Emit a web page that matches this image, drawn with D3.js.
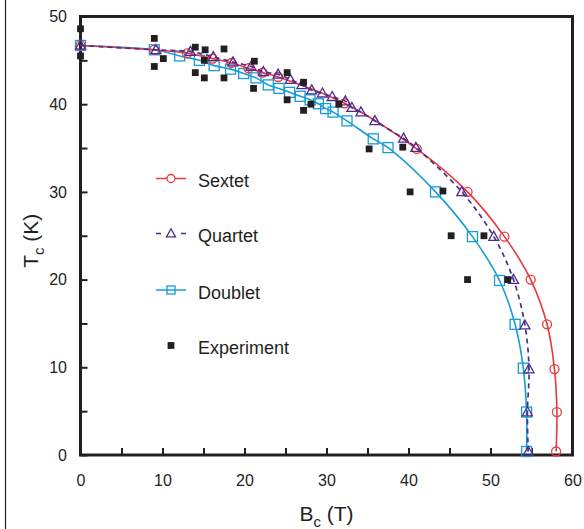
<!DOCTYPE html>
<html>
<head>
<meta charset="utf-8">
<script src="https://cdn.jsdelivr.net/npm/d3@7"></script>
<style>
  html, body { margin: 0; padding: 0; background: #fff; }
  svg { display: block; }
  text { font-family: "Liberation Sans", Arial, Helvetica, sans-serif; fill: #231f20; }
</style>
</head>
<body>
<script>
// ---------- data ----------
const sextetB = [0, 9, 13, 16.1, 18.4, 20.5, 22.2, 24.1, 32.2, 41.0, 47.2, 51.7, 54.9, 56.9, 57.8, 58.1, 58.0];
const sextetT = [46.7, 46.2, 45.8, 45.2, 44.7, 44.1, 43.6, 43.1, 40.1, 34.9, 30.0, 24.9, 20.0, 14.9, 9.8, 4.9, 0.4];

const quartetB = [0, 9.2, 13.4, 16.2, 18.6, 20.8, 22.3, 24.1, 25.6, 27.0, 28.2, 29.5, 30.7, 32.3, 33.1, 34.2, 35.9, 39.4, 40.9, 46.5, 50.4, 52.8, 54.2, 54.7, 54.5, 54.6];
const quartetT = [46.7, 46.2, 46.0, 45.4, 44.8, 44.3, 43.7, 43.4, 42.8, 42.2, 41.6, 41.25, 40.85, 40.35, 39.6, 39.1, 38.1, 36.1, 35.05, 30.0, 24.9, 20.0, 14.8, 9.8, 4.9, 0.4];

const doubletB = [0, 9, 12.1, 14.5, 16.3, 18.3, 19.9, 21.4, 22.9, 24.2, 25.5, 26.8, 28.0, 29.0, 29.9, 30.8, 32.5, 35.7, 37.5, 43.3, 47.8, 51.1, 53.0, 54.0, 54.4, 54.4];
const doubletT = [46.7, 46.2, 45.5, 45.0, 44.4, 44.0, 43.5, 43.0, 42.2, 41.8, 41.35, 40.9, 40.5, 40.05, 39.5, 39.1, 38.1, 36.05, 35.05, 30.0, 24.9, 19.9, 14.9, 9.9, 4.9, 0.4];

const expB = [0, 0, 9, 10.1, 9, 14, 15.2, 17.5, 15.1, 14, 15.1, 17.5, 21.2, 21.1, 25.2, 27.2, 25.2, 27.2, 28.1, 31.5, 35.2, 39.3, 40.2, 44.2, 45.2, 49.2, 47.2, 52.1];
const expT = [48.6, 45.5, 47.5, 45.2, 44.3, 46.5, 46.2, 46.3, 45.0, 43.6, 43.0, 43.0, 44.9, 41.8, 43.6, 42.5, 40.5, 39.3, 40.0, 40.0, 34.9, 35.1, 30.0, 30.1, 25.0, 25.0, 20.0, 20.0];

const xTickValues = [0, 5, 10, 15, 20, 25, 30, 35, 40, 45, 50, 55, 60];
const yTickValues = [0, 5, 10, 15, 20, 25, 30, 35, 40, 45, 50];
const legendLabels = ["Sextet", "Quartet", "Doublet", "Experiment"];

// ---------- layout ----------
const W = 584, H = 529;
const mLeft = 80.5, mRight = 572.5, mTop = 16.5, mBottom = 455;
const colors = { sextet: "#e8383d", quartet: "#4e2c8e", doublet: "#179cd8", exp: "#231f20" };

const svg = d3.select("body").append("svg").attr("width", W).attr("height", H);

// thin border at left edge of figure
svg.append("line").attr("x1", 5.5).attr("x2", 5.5).attr("y1", 0).attr("y2", H)
  .attr("stroke", "#231f20").attr("stroke-width", 1.2);

const x = d3.scaleLinear().domain([0, 60]).range([mLeft, mRight]);
const y = d3.scaleLinear().domain([0, 50]).range([mBottom, mTop]);

// axes
const xAxis = svg.append("g").attr("transform", `translate(0,${mBottom})`)
  .call(d3.axisBottom(x).tickValues(xTickValues).tickSize(-7).tickPadding(20)
    .tickFormat(d => d % 10 === 0 ? d : ""));
const yAxis = svg.append("g").attr("transform", `translate(${mLeft},0)`)
  .call(d3.axisLeft(y).tickValues(yTickValues).tickSize(-7).tickPadding(13.5)
    .tickFormat(d => d % 10 === 0 ? d : ""));
[xAxis, yAxis].forEach(g => {
  g.select(".domain").remove();
  g.selectAll(".tick line").attr("stroke", "#231f20").attr("stroke-width", 2);
  g.selectAll(".tick text").attr("font-size", 16).attr("fill", "#231f20")
    .attr("font-family", '"Liberation Sans", Arial, sans-serif');
});

// frame
svg.append("rect").attr("x", mLeft).attr("y", mTop)
  .attr("width", mRight - mLeft).attr("height", mBottom - mTop)
  .attr("fill", "none").attr("stroke", "#231f20").attr("stroke-width", 3);

// axis titles
const xt = svg.append("text").attr("x", x(30)).attr("y", 521).attr("text-anchor", "middle").attr("font-size", 21);
xt.append("tspan").text("B");
xt.append("tspan").attr("font-size", 15).attr("dy", 6).text("c");
xt.append("tspan").attr("dy", -6).text(" (T)");

const yt = svg.append("text").attr("transform", `translate(38,${y(25) + 5}) rotate(-90)`)
  .attr("text-anchor", "middle").attr("font-size", 21);
yt.append("tspan").text("T");
yt.append("tspan").attr("font-size", 15).attr("dy", 6).text("c");
yt.append("tspan").attr("dy", -6).text(" (K)");

// series
const zip = (a, b) => a.map((v, i) => [v, b[i]]);
const line = d3.line().x(d => x(d[0])).y(d => y(d[1])).curve(d3.curveCatmullRom.alpha(0.5));

function triPath(cx, cy, s) {
  return `M${cx},${cy - s * 1.05}L${cx + s},${cy + s * 0.75}L${cx - s},${cy + s * 0.75}Z`;
}

const plot = svg.append("g");

// doublet
const dData = zip(doubletB, doubletT);
plot.append("path").attr("d", line(dData)).attr("fill", "none")
  .attr("stroke", colors.doublet).attr("stroke-width", 1.6);
plot.selectAll(".dmark").data(dData).join("rect").attr("class", "dmark")
  .attr("x", d => x(d[0]) - 5).attr("y", d => y(d[1]) - 5).attr("width", 10).attr("height", 10)
  .attr("fill", "none").attr("stroke", colors.doublet).attr("stroke-width", 1.3);

// sextet
const sData = zip(sextetB, sextetT);
plot.append("path").attr("d", line(sData)).attr("fill", "none")
  .attr("stroke", colors.sextet).attr("stroke-width", 1.6);
plot.selectAll(".smark").data(sData).join("circle").attr("class", "smark")
  .attr("cx", d => x(d[0])).attr("cy", d => y(d[1])).attr("r", 4.5)
  .attr("fill", "none").attr("stroke", colors.sextet).attr("stroke-width", 1.3);

// quartet
const qData = zip(quartetB, quartetT);
plot.append("path").attr("d", line(qData)).attr("fill", "none")
  .attr("stroke", colors.quartet).attr("stroke-width", 1.7).attr("stroke-dasharray", "5,4");
plot.selectAll(".qmark").data(qData).join("path").attr("class", "qmark")
  .attr("d", d => triPath(x(d[0]), y(d[1]), 5))
  .attr("fill", "none").attr("stroke", colors.quartet).attr("stroke-width", 1.3);

// experiment
const eData = zip(expB, expT);
plot.selectAll(".emark").data(eData).join("rect").attr("class", "emark")
  .attr("x", d => x(d[0]) - 3.4).attr("y", d => y(d[1]) - 3.4).attr("width", 6.8).attr("height", 6.8)
  .attr("fill", colors.exp);

// legend
const legY = [178.5, 233.5, 290, 345.5];
const lg = svg.append("g");
// Sextet
lg.append("line").attr("x1", 156).attr("x2", 186).attr("y1", legY[0]).attr("y2", legY[0])
  .attr("stroke", colors.sextet).attr("stroke-width", 1.5);
lg.append("circle").attr("cx", 171).attr("cy", legY[0]).attr("r", 4)
  .attr("fill", "#fff").attr("stroke", colors.sextet).attr("stroke-width", 1.3);
// Quartet
lg.append("line").attr("x1", 156).attr("x2", 186).attr("y1", legY[1]).attr("y2", legY[1])
  .attr("stroke", colors.quartet).attr("stroke-width", 1.5).attr("stroke-dasharray", "5,20,5");
lg.append("path").attr("d", triPath(171, legY[1], 4.5))
  .attr("fill", "#fff").attr("stroke", colors.quartet).attr("stroke-width", 1.3);
// Doublet
lg.append("line").attr("x1", 156).attr("x2", 186).attr("y1", legY[2]).attr("y2", legY[2])
  .attr("stroke", colors.doublet).attr("stroke-width", 1.5);
lg.append("rect").attr("x", 167).attr("y", legY[2] - 4).attr("width", 8).attr("height", 8)
  .attr("fill", "none").attr("stroke", colors.doublet).attr("stroke-width", 1.3);
// Experiment
lg.append("rect").attr("x", 171 - 3.4).attr("y", legY[3] - 3.4).attr("width", 6.8).attr("height", 6.8)
  .attr("fill", colors.exp);

lg.selectAll(".ltext").data(legendLabels).join("text").attr("class", "ltext")
  .attr("x", 198).attr("y", (d, i) => legY[i] + 8.5).attr("font-size", 18).text(d => d);
</script>
</body>
</html>
